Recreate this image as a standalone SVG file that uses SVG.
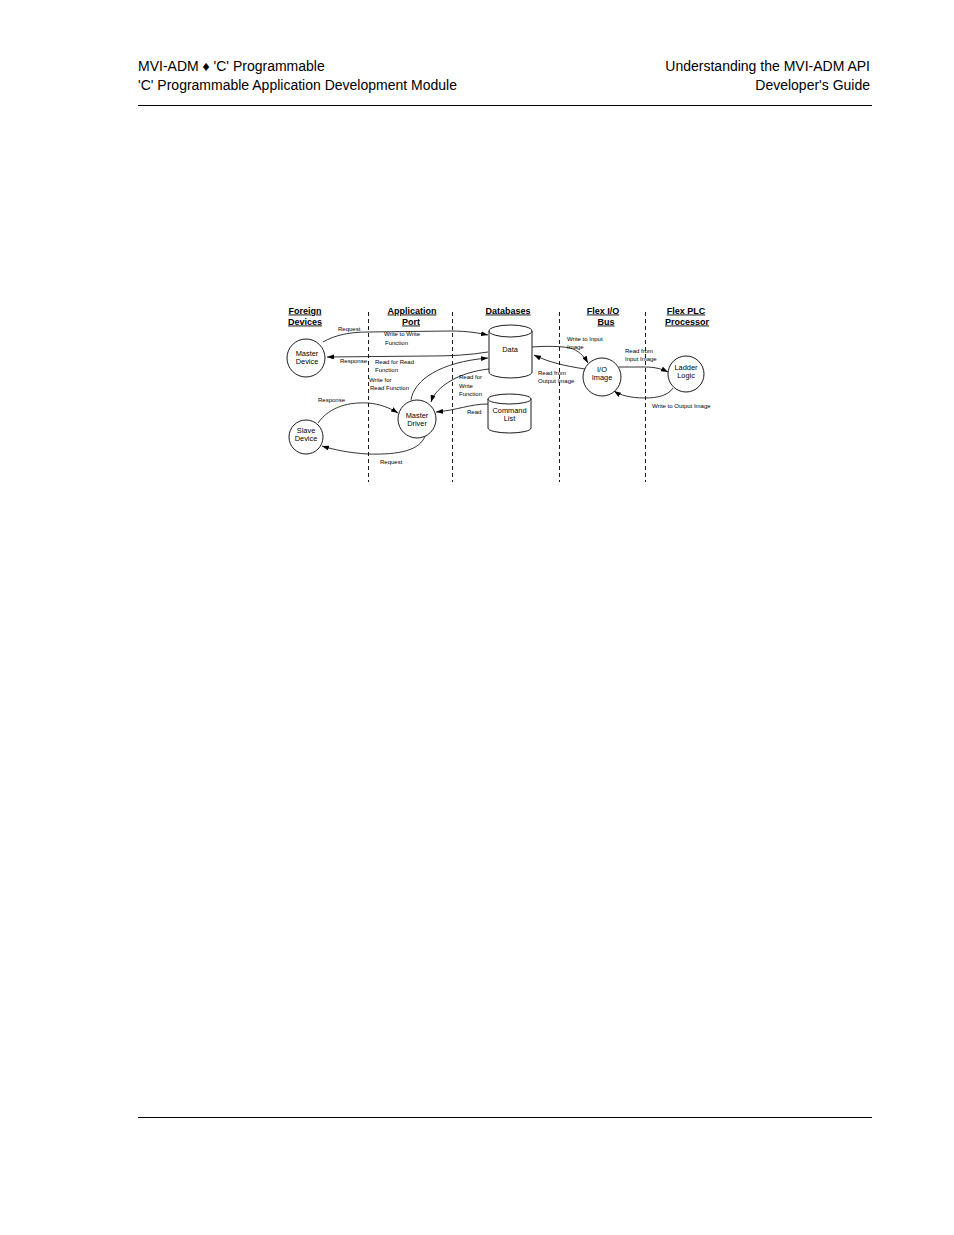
<svg xmlns="http://www.w3.org/2000/svg" width="954" height="1235" viewBox="0 0 954 1235">
<defs>
<marker id="ah" markerUnits="userSpaceOnUse" markerWidth="7" markerHeight="5" refX="7" refY="2.5" orient="auto">
<path d="M0,0 L7,2.5 L0,5 Z" fill="#000"/>
</marker>
<style>
.hdr{font-family:"Liberation Sans",Arial,sans-serif;font-size:14px;fill:#000}
.head{font-family:"Liberation Sans",Arial,sans-serif;font-size:9px;font-weight:bold;fill:#000;text-anchor:middle;text-decoration:underline}
.nt{font-family:"Liberation Sans",Arial,sans-serif;font-size:7.4px;fill:#000;text-anchor:middle}
.lb{font-family:"Liberation Sans",Arial,sans-serif;font-size:6px;fill:#000}
.shape{fill:#fff;stroke:#000;stroke-width:0.9}
.dash{stroke:#000;stroke-width:0.9;stroke-dasharray:4 3;fill:none}
.con{fill:none;stroke:#000;stroke-width:0.8}
.arr{marker-end:url(#ah)}
</style>
</defs>
<rect width="954" height="1235" fill="#fff"/>
<g id="header">
<text class="hdr" x="138" y="71">MVI-ADM ♦ 'C' Programmable</text>
<text class="hdr" x="138" y="90">'C' Programmable Application Development Module</text>
<text class="hdr" x="870" y="71" text-anchor="end">Understanding the MVI-ADM API</text>
<text class="hdr" x="870" y="90" text-anchor="end">Developer's Guide</text>
<line x1="138" y1="105.5" x2="872" y2="105.5" stroke="#000" stroke-width="1.2"/>
</g>
<g id="footer">
<line x1="138" y1="1117.5" x2="872" y2="1117.5" stroke="#000" stroke-width="1.2"/>
</g>
<g id="lanes">
<text class="head" x="305" y="313.5">Foreign</text>
<text class="head" x="305" y="324.5">Devices</text>
<text class="head" x="412" y="313.5">Application</text>
<text class="head" x="411" y="324.5">Port</text>
<text class="head" x="508" y="313.5">Databases</text>
<text class="head" x="603" y="313.5">Flex I/O</text>
<text class="head" x="606" y="324.5">Bus</text>
<text class="head" x="686" y="313.5">Flex PLC</text>
<text class="head" x="687" y="324.5">Processor</text>
<line class="dash" x1="368.5" y1="312" x2="368.5" y2="482"/>
<line class="dash" x1="452.5" y1="312" x2="452.5" y2="482"/>
<line class="dash" x1="559.5" y1="312" x2="559.5" y2="482"/>
<line class="dash" x1="645.5" y1="312" x2="645.5" y2="482"/>
</g>
<g id="connectors">
<path class="con arr" d="M323,342 C335,335 350,332 368,332 L450,331 C468,331 478,333 488,335"/>
<path class="con arr" d="M488,352 C470,355 450,356 430,356 L327,357"/>
<path class="con arr" d="M411,400 C414,380 440,362 488,358"/>
<path class="con arr" d="M489,369 C460,372 436,386 431,402"/>
<path class="con arr" d="M488,404 C470,404 458,410 436,412"/>
<path class="con arr" d="M318,423 C330,406 350,402 368,403 C380,404 390,408 398,413"/>
<path class="con arr" d="M425,436 C420,450 400,455 368,454 C350,453 335,450 322,446"/>
<path class="con arr" d="M532,347 C545,346 560,346 570,348 C578,350 584,356 588,363"/>
<path class="con arr" d="M585,369 C565,366 548,362 534,355"/>
<path class="con arr" d="M619,367 L645,367 C655,367 662,369 668,372"/>
<path class="con arr" d="M673,388 C668,396 656,398 645,398 C630,398 620,395 614,391"/>
</g>
<g id="labels">
<text class="lb" x="338" y="331">Request</text>
<text class="lb" x="384" y="336">Write to Write</text>
<text class="lb" x="385" y="345">Function</text>
<text class="lb" x="340" y="363">Response</text>
<text class="lb" x="375" y="364">Read for Read</text>
<text class="lb" x="375" y="372">Function</text>
<text class="lb" x="369" y="382">Write for</text>
<text class="lb" x="370" y="390">Read Function</text>
<text class="lb" x="459" y="379">Read for</text>
<text class="lb" x="459" y="388">Write</text>
<text class="lb" x="459" y="396">Function</text>
<text class="lb" x="467" y="414">Read</text>
<text class="lb" x="318" y="402">Response</text>
<text class="lb" x="380" y="464">Request</text>
<text class="lb" x="567" y="341">Write to Input</text>
<text class="lb" x="567" y="349">Image</text>
<text class="lb" x="538" y="375">Read from</text>
<text class="lb" x="538" y="383">Output Image</text>
<text class="lb" x="625" y="353">Read from</text>
<text class="lb" x="625" y="361">Input Image</text>
<text class="lb" x="652" y="408">Write to Output Image</text>
</g>
<g id="master-device">
<circle class="shape" cx="306" cy="358" r="19"/>
<text class="nt" x="307" y="356">Master</text>
<text class="nt" x="307" y="364">Device</text>
</g>
<g id="slave-device">
<circle class="shape" cx="306" cy="437" r="17"/>
<text class="nt" x="306" y="433">Slave</text>
<text class="nt" x="306" y="441">Device</text>
</g>
<g id="master-driver">
<circle class="shape" cx="417" cy="419" r="19"/>
<text class="nt" x="417" y="418">Master</text>
<text class="nt" x="417" y="426">Driver</text>
</g>
<g id="data">
<path class="shape" d="M489,331 L489,372 A21.5,6 0 0,0 532,372 L532,331"/>
<ellipse class="shape" cx="510.5" cy="331" rx="21.5" ry="6"/>
<text class="nt" x="510" y="352">Data</text>
</g>
<g id="command-list">
<path class="shape" d="M488,399 L488,428 A21.5,5 0 0,0 531,428 L531,399"/>
<ellipse class="shape" cx="509.5" cy="399" rx="21.5" ry="5"/>
<text class="nt" x="509.5" y="413">Command</text>
<text class="nt" x="509.5" y="421">List</text>
</g>
<g id="io-image">
<circle class="shape" cx="602" cy="377" r="19"/>
<text class="nt" x="602" y="372">I/O</text>
<text class="nt" x="602" y="380">Image</text>
</g>
<g id="ladder-logic">
<circle class="shape" cx="686" cy="374" r="18"/>
<text class="nt" x="686" y="370">Ladder</text>
<text class="nt" x="686" y="378">Logic</text>
</g>
</svg>
